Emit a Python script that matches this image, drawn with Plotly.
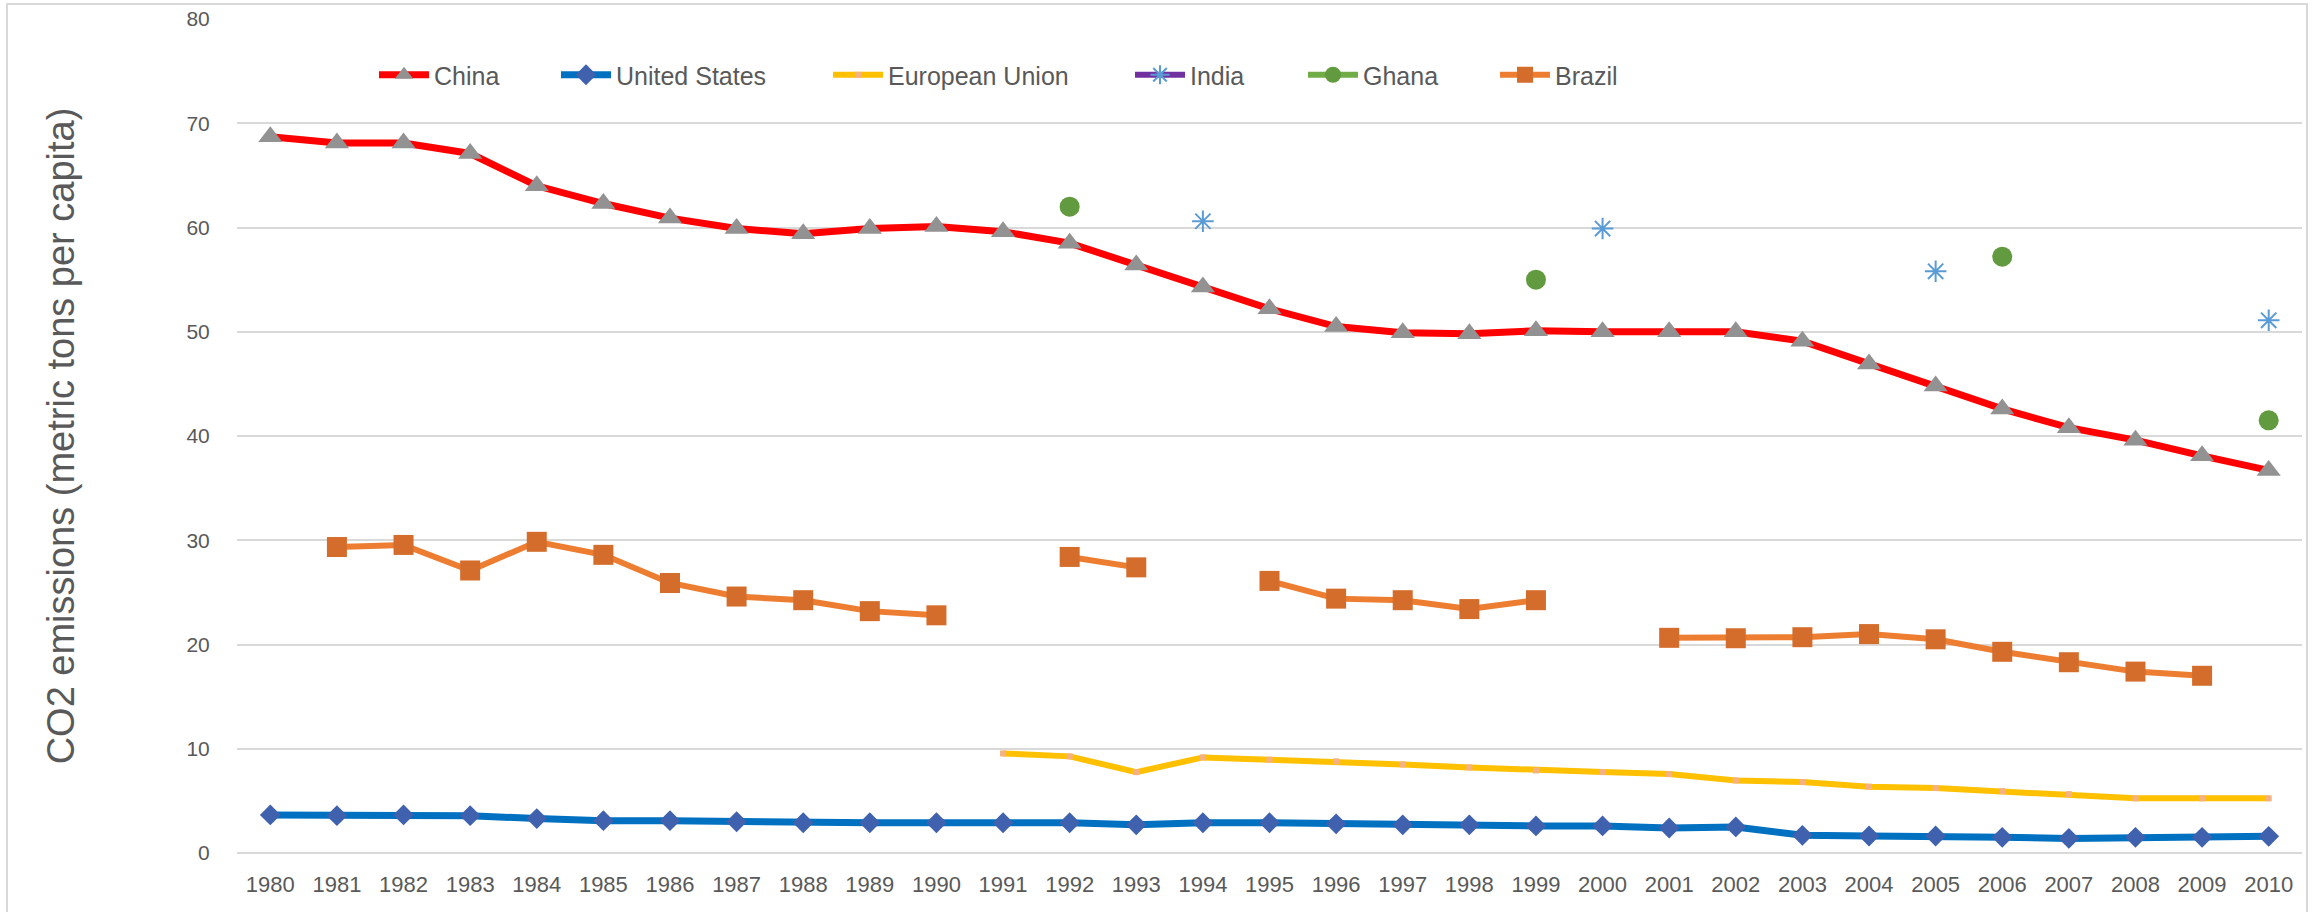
import plotly.graph_objects as go

years = ["1980", "1981", "1982", "1983", "1984", "1985", "1986", "1987", "1988", "1989",
         "1990", "1991", "1992", "1993", "1994", "1995", "1996", "1997", "1998", "1999",
         "2000", "2001", "2002", "2003", "2004", "2005", "2006", "2007", "2008", "2009", "2010"]

china = [68.7, 68.1, 68.1, 67.1, 64.0, 62.3, 60.9, 59.9, 59.4, 59.9,
         60.1, 59.6, 58.5, 56.4, 54.3, 52.2, 50.5, 49.9, 49.8, 50.1,
         50.0, 50.0, 50.0, 49.1, 46.9, 44.8, 42.6, 40.8, 39.6, 38.1, 36.7]

united_states = [3.65, 3.58, 3.65, 3.58, 3.3, 3.1, 3.1, 3.0, 2.9, 2.9,
                 2.9, 2.9, 2.9, 2.7, 2.9, 2.9, 2.8, 2.7, 2.7, 2.6,
                 2.6, 2.4, 2.5, 1.7, 1.63, 1.63, 1.5, 1.4, 1.5, 1.5, 1.6]

european_union = [None, None, None, None, None, None, None, None, None, None,
                  None, 9.55, 9.27, 7.76, 9.17, 8.95, 8.79, 8.5, 8.21, 7.92,
                  7.76, 7.57, 6.96, 6.8, 6.36, 6.23, 5.94, 5.65, 5.24, 5.24, 5.24]

india = [None, None, None, None, None, None, None, None, None, None,
         None, None, None, None, 60.6, None, None, None, None, None,
         59.9, None, None, None, None, 55.8, None, None, None, None, 51.1]

ghana = [None, None, None, None, None, None, None, None, None, None,
         None, None, 62.0, None, None, None, None, None, None, 55.0,
         None, None, None, None, None, None, 57.2, None, None, None, 41.5]

brazil = [None, 29.35, 29.55, 27.1, 29.85, 28.6, 25.9, 24.6, 24.25, 23.2,
          22.8, None, 28.4, 27.4, None, 26.1, 24.4, 24.25, 23.4, 24.25,
          None, 20.64, 20.6, 20.7, 21.0, 20.5, 19.3, 18.3, 17.4, 17.0, None]

series_names = ["China", "United States", "European Union", "India", "Ghana", "Brazil"]

W, H = 2313, 912
L, R, T, B = 237, 11, 19, 59
PW = W - L - R
PH = H - T - B

def px_x(p):
    return (p - L) / PW

def px_y(p):
    return (H - B - p) / PH

TEXT = "#595959"
FONT = "Liberation Sans"

fig = go.Figure()

fig.add_trace(go.Scatter(
    x=years, y=china, name=series_names[0], mode="lines+markers",
    line=dict(color="#FF0000", width=7),
    marker=dict(symbol="triangle-up", size=21, color="#929292"),
    connectgaps=False, legend="legend"))

fig.add_trace(go.Scatter(
    x=years, y=united_states, name=series_names[1], mode="lines+markers",
    line=dict(color="#0070C0", width=7),
    marker=dict(symbol="diamond", size=16, color="#4061AE"),
    connectgaps=False, legend="legend2"))

fig.add_trace(go.Scatter(
    x=years, y=european_union, name=series_names[2], mode="lines+markers",
    line=dict(color="#FFC000", width=6),
    marker=dict(symbol="square", size=6, color="#F4B183"),
    connectgaps=False, legend="legend3"))

fig.add_trace(go.Scatter(
    x=years, y=india, name=series_names[3], mode="lines+markers",
    line=dict(color="#7030A0", width=6),
    marker=dict(symbol="asterisk-open", size=18, color="#5B9BD5",
                line=dict(color="#5B9BD5", width=2)),
    connectgaps=False, legend="legend4"))

fig.add_trace(go.Scatter(
    x=years, y=ghana, name=series_names[4], mode="lines+markers",
    line=dict(color="#70AD47", width=6),
    marker=dict(symbol="circle", size=20, color="#629B3F"),
    connectgaps=False, legend="legend5"))

fig.add_trace(go.Scatter(
    x=years, y=brazil, name=series_names[5], mode="lines+markers",
    line=dict(color="#ED7D31", width=6),
    marker=dict(symbol="square", size=20, color="#D46D2C"),
    connectgaps=False, legend="legend6"))

legend_starts = [379, 561, 833, 1135, 1308, 1500]
legend_keys = ["legend", "legend2", "legend3", "legend4", "legend5", "legend6"]
legend_layout = {}
for key, sx in zip(legend_keys, legend_starts):
    legend_layout[key] = dict(
        x=px_x(sx - 5), y=px_y(75), xanchor="left", yanchor="middle",
        orientation="h", itemwidth=50, bgcolor="rgba(0,0,0,0)",
        font=dict(family=FONT, size=25, color=TEXT), borderwidth=0,
        itemclick=False, itemdoubleclick=False)

fig.update_layout(
    width=W, height=H,
    margin=dict(l=L, r=R, t=T, b=B, autoexpand=False),
    paper_bgcolor="white", plot_bgcolor="white",
    showlegend=True,
    **legend_layout,
    xaxis=dict(
        type="category", range=[-0.5, 30.5], showgrid=False, zeroline=False,
        showline=False, ticks="outside", ticklen=12, tickcolor="rgba(0,0,0,0)",
        tickfont=dict(family=FONT, size=22, color=TEXT), fixedrange=True,
    ),
    yaxis=dict(
        range=[0, 80], dtick=10, showgrid=True, gridcolor="#D9D9D9", gridwidth=2,
        zeroline=True, zerolinecolor="#D9D9D9", zerolinewidth=2, showline=False,
        ticks="outside", ticklen=22, tickcolor="rgba(0,0,0,0)",
        tickfont=dict(family=FONT, size=21, color=TEXT),
        title=dict(text="CO2 emissions (metric tons per capita)",
                   font=dict(family=FONT, size=38, color=TEXT), standoff=100),
        automargin=False, fixedrange=True,
    ),
    shapes=[dict(type="rect", xref="paper", yref="paper",
                 x0=px_x(7), x1=px_x(2307), y0=px_y(920), y1=px_y(4),
                 line=dict(color="#D9D9D9", width=2), fillcolor="rgba(0,0,0,0)",
                 layer="below")],
)

fig.write_html(
    "out.html",
    config={"displayModeBar": False},
    post_script="document.body.style.margin='0';document.body.style.overflow='hidden';",
)
